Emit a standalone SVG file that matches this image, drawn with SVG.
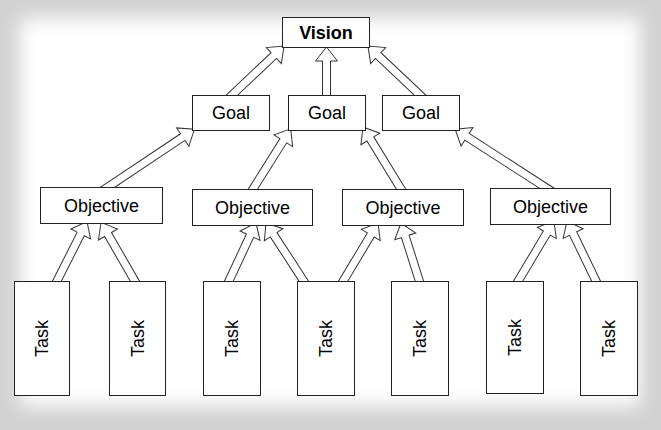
<svg xmlns="http://www.w3.org/2000/svg" width="661" height="430" viewBox="0 0 661 430">
<defs>
<filter id="soft" x="-10%" y="-10%" width="120%" height="120%">
<feGaussianBlur stdDeviation="9"/>
</filter>
</defs>
<style>
.box{fill:#fff;stroke:#222;stroke-width:1}
.arr{fill:#fff;stroke:#333;stroke-width:1;stroke-linejoin:miter}
.t{font-family:"Liberation Sans",Arial,sans-serif;font-size:18px;fill:#000;text-anchor:middle}
.b{font-weight:bold}
</style>
<rect x="0" y="0" width="661" height="430" fill="#d2d2d2"/>
<rect x="20" y="18" width="620" height="388" fill="#fff" filter="url(#soft)"/>
<g id="connectors">
<polygon class="arr" transform="translate(231,96) rotate(-43.33)" points="-8,-4 58.9,-4 58.9,-11 72.9,0 58.9,11 58.9,4 -8,4"/>
<polygon class="arr" transform="translate(326.5,96) rotate(-90)" points="-8,-4 35,-4 35,-11 49,0 35,11 35,4 -8,4"/>
<polygon class="arr" transform="translate(421,96) rotate(-136.67)" points="-8,-4 58.9,-4 58.9,-11 72.9,0 58.9,11 58.9,4 -8,4"/>
<polygon class="arr" transform="translate(105,189) rotate(-33.73)" points="-8,-4 93.5,-4 93.5,-11 107.5,0 93.5,11 93.5,4 -8,4"/>
<polygon class="arr" transform="translate(253,189) rotate(-57.9)" points="-8,-4 57,-4 57,-11 71,0 57,11 57,4 -8,4"/>
<polygon class="arr" transform="translate(401,189) rotate(-121.5)" points="-8,-4 58.7,-4 58.7,-11 72.7,0 58.7,11 58.7,4 -8,4"/>
<polygon class="arr" transform="translate(548,189) rotate(-147.2)" points="-8,-4 96.4,-4 96.4,-11 110.4,0 96.4,11 96.4,4 -8,4"/>
<polygon class="arr" transform="translate(56,283) rotate(-63.25)" points="-8,-4 54.9,-4 54.9,-11 68.9,0 54.9,11 54.9,4 -8,4"/>
<polygon class="arr" transform="translate(136,283) rotate(-120)" points="-8,-4 56,-4 56,-11 70,0 56,11 56,4 -8,4"/>
<polygon class="arr" transform="translate(228,283) rotate(-64.98)" points="-8,-4 52.2,-4 52.2,-11 66.2,0 52.2,11 52.2,4 -8,4"/>
<polygon class="arr" transform="translate(305,283) rotate(-123.02)" points="-8,-4 57.6,-4 57.6,-11 71.6,0 57.6,11 57.6,4 -8,4"/>
<polygon class="arr" transform="translate(342,283) rotate(-59.04)" points="-8,-4 56,-4 56,-11 70,0 56,11 56,4 -8,4"/>
<polygon class="arr" transform="translate(420,283) rotate(-107.57)" points="-8,-4 48.9,-4 48.9,-11 62.9,0 48.9,11 48.9,4 -8,4"/>
<polygon class="arr" transform="translate(517,283) rotate(-59.17)" points="-8,-4 58.2,-4 58.2,-11 72.2,0 58.2,11 58.2,4 -8,4"/>
<polygon class="arr" transform="translate(597,283) rotate(-115.82)" points="-8,-4 54.9,-4 54.9,-11 68.9,0 54.9,11 54.9,4 -8,4"/>
</g>
<g id="vision"><rect class="box" x="282.5" y="17.5" width="87" height="30"/><text class="t b" x="326" y="38.5">Vision</text></g>
<g id="goal1"><rect class="box" x="192.5" y="95.5" width="77" height="35"/><text class="t" x="231" y="119">Goal</text></g>
<g id="goal2"><rect class="box" x="288.5" y="95.5" width="77" height="35"/><text class="t" x="327" y="119">Goal</text></g>
<g id="goal3"><rect class="box" x="382.5" y="95.5" width="77" height="35"/><text class="t" x="421" y="119">Goal</text></g>
<g id="objective1"><rect class="box" x="40.5" y="187.5" width="122" height="36"/><text class="t" x="101.5" y="212">Objective</text></g>
<g id="objective2"><rect class="box" x="192.5" y="189.5" width="120" height="36"/><text class="t" x="252.5" y="214">Objective</text></g>
<g id="objective3"><rect class="box" x="342.5" y="189.5" width="121" height="36"/><text class="t" x="403" y="214">Objective</text></g>
<g id="objective4"><rect class="box" x="490.5" y="188.5" width="120" height="36"/><text class="t" x="550.5" y="213">Objective</text></g>
<g id="task1"><rect class="box" x="14.5" y="281.5" width="55" height="114"/><text class="t" transform="translate(48,338.5) rotate(-90)">Task</text></g>
<g id="task2"><rect class="box" x="109.5" y="281.5" width="56" height="114"/><text class="t" transform="translate(143.5,338.5) rotate(-90)">Task</text></g>
<g id="task3"><rect class="box" x="203.5" y="281.5" width="57" height="114"/><text class="t" transform="translate(238,338.5) rotate(-90)">Task</text></g>
<g id="task4"><rect class="box" x="297.5" y="281.5" width="57" height="114"/><text class="t" transform="translate(332,338.5) rotate(-90)">Task</text></g>
<g id="task5"><rect class="box" x="391.5" y="281.5" width="57" height="114"/><text class="t" transform="translate(426,338.5) rotate(-90)">Task</text></g>
<g id="task6"><rect class="box" x="486.5" y="281.5" width="57" height="112"/><text class="t" transform="translate(521,337.5) rotate(-90)">Task</text></g>
<g id="task7"><rect class="box" x="580.5" y="281.5" width="57" height="114"/><text class="t" transform="translate(615,338.5) rotate(-90)">Task</text></g>
</svg>
